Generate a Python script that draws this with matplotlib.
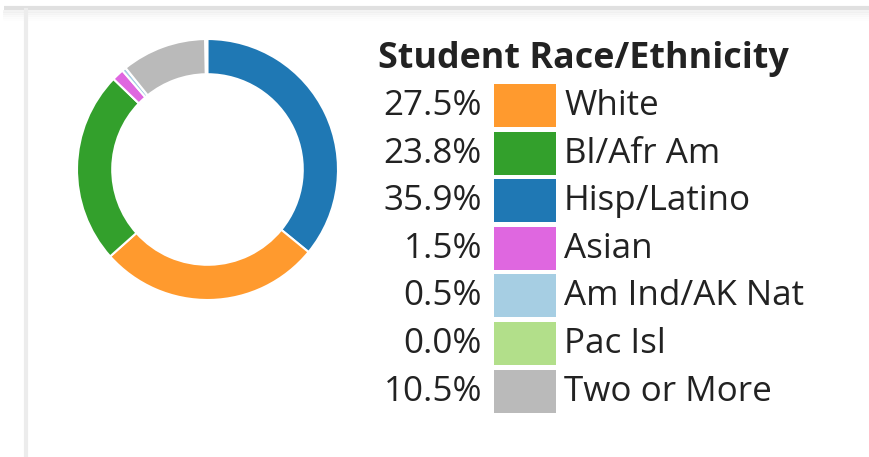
import matplotlib.pyplot as plt
from matplotlib.patches import Rectangle

plt.rcParams['font.family'] = ['Open Sans', 'DejaVu Sans']

# legend order
groups = ['White', 'Bl/Afr Am', 'Hisp/Latino', 'Asian', 'Am Ind/AK Nat', 'Pac Isl', 'Two or More']
shares = [27.5, 23.8, 35.9, 1.5, 0.5, 0.0, 10.5]
colors = ['#ff9a2e', '#33a02c', '#1f78b4', '#df67e0', '#a6cee3', '#b2df8a', '#bababa']
# order of slices around the ring, clockwise from 12 o'clock
ring_order = [2, 0, 1, 3, 4, 5, 6]

W, H = 870, 457
fig = plt.figure(figsize=(W / 100, H / 100), dpi=100)

# background frame (pixel coordinates)
bg = fig.add_axes([0, 0, 1, 1])
bg.set_xlim(0, W)
bg.set_ylim(H, 0)
bg.axis('off')
bg.plot([4, W], [8, 8], color='#e0e0e0', lw=3, solid_capstyle='butt')
for i, a in enumerate([0.5, 0.35, 0.22, 0.12, 0.05]):
    bg.plot([4, W], [10.5 + 2 * i, 10.5 + 2 * i], color='#e8e8e8', alpha=a, lw=2)
bg.plot([26.5, 26.5], [10, H], color='#ececec', lw=3)

# donut
cx, cy, r = 207.5, 169.5, 130.5
ax = fig.add_axes([(cx - r) / W, (H - cy - r) / H, 2 * r / W, 2 * r / H])
vals = [shares[i] / 100 for i in ring_order]
cols = [colors[i] for i in ring_order]
ax.pie(vals, colors=cols, startangle=90, counterclock=False, normalize=False,
       radius=1, wedgeprops=dict(width=0.27, edgecolor='white', linewidth=1.5))
ax.set_xlim(-1, 1)
ax.set_ylim(-1, 1)
ax.set_aspect('equal')
ax.axis('off')

# legend
txt = '#222222'
bg.text(378, 68, 'Student Race/Ethnicity', fontsize=25.8, fontweight='bold',
        color=txt, va='baseline', ha='left')
row0, pitch = 105.5, 47.6
for i, (g, s, c) in enumerate(zip(groups, shares, colors)):
    yc = row0 + pitch * i
    bg.add_patch(Rectangle((494, yc - 21.5), 62, 43, color=c, lw=0))
    bg.text(482, yc + 9.5, f'{s:.1f}%', fontsize=25.2, color=txt,
            ha='right', va='baseline')
    bg.text(564, yc + 9.5, g, fontsize=25.2, color=txt, ha='left', va='baseline')

fig.savefig('out.png', dpi=100)
